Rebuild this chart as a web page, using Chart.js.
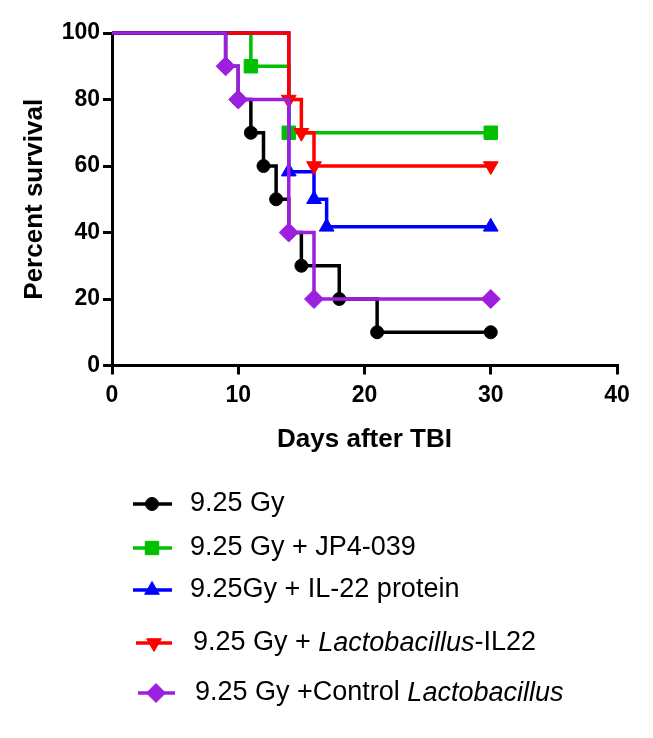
<!DOCTYPE html>
<html>
<head>
<meta charset="utf-8">
<script src="https://cdn.jsdelivr.net/npm/chart.js@4.4.1/dist/chart.umd.min.js"></script>
<style>
  html, body { margin: 0; padding: 0; background: #fff; }
</style>
</head>
<body>
<canvas id="survivalChart" width="653" height="738"></canvas>
<script>
const xTicks = [0, 10, 20, 30, 40];
const yTicks = [0, 20, 40, 60, 80, 100];

// Kaplan-Meier steps: day of the drop and survival (%) after it
const gyDays = [0, 9, 10, 11, 12, 13, 14, 15, 18, 21, 30];
const gySurvival = [100, 90, 80, 70, 60, 50, 40, 30, 20, 10, 10];
const jp4Days = [0, 11, 14, 30];
const jp4Survival = [100, 90, 70, 70];
const proteinDays = [0, 14, 16, 17, 30];
const proteinSurvival = [100, 58.3, 50, 41.7, 41.7];
const lactoIl22Days = [0, 14, 15, 16, 30];
const lactoIl22Survival = [100, 80, 70, 60, 60];
const lactoCtrlDays = [0, 9, 10, 14, 16, 30];
const lactoCtrlSurvival = [100, 90, 80, 40, 20, 20];

// legend text pieces: [text, italic]
const seriesLabels = [
  [["9.25 Gy", false]],
  [["9.25 Gy + JP4-039", false]],
  [["9.25Gy + IL-22 protein", false]],
  [["9.25 Gy + ", false], ["Lactobacillus", true], ["-IL22", false]],
  [["9.25 Gy +Control ", false], ["Lactobacillus", true]],
];

const FONT = "'Liberation Sans', Arial, sans-serif";

const makeSet = (label, days, survival, color, style, radius, rotation, order) => ({
  label: label.map((p) => p[0]).join(""),
  data: days.map((d, i) => ({ x: d, y: survival[i] })),
  borderColor: color,
  backgroundColor: color,
  borderWidth: 3.5,
  stepped: "before",
  pointStyle: style,
  pointRotation: rotation,
  pointRadius: days.map((d, i) => (i === 0 ? 0 : radius)),
  pointHoverRadius: days.map((d, i) => (i === 0 ? 0 : radius)),
  pointBorderWidth: 1,
  fill: false,
  clip: false,
  order: order,
});

const datasets = [
  makeSet(seriesLabels[0], gyDays, gySurvival, "#000000", "circle", 6.5, 0, 2),
  makeSet(seriesLabels[1], jp4Days, jp4Survival, "#00c000", "rect", 9.5, 0, 5),
  makeSet(seriesLabels[2], proteinDays, proteinSurvival, "#0000ff", "triangle", 8.5, 0, 4),
  makeSet(seriesLabels[3], lactoIl22Days, lactoIl22Survival, "#ff0000", "triangle", 8.5, 180, 3),
  makeSet(seriesLabels[4], lactoCtrlDays, lactoCtrlSurvival, "#9c1fe0", "rectRot", 9.5, 0, 1),
];

const legendRows = [
  { y: 504, lineX: [133, 172], markX: 152, textX: 190 },
  { y: 548, lineX: [133, 172], markX: 152, textX: 190 },
  { y: 590, lineX: [133, 172], markX: 152, textX: 190 },
  { y: 643, lineX: [136, 172], markX: 154, textX: 193 },
  { y: 693, lineX: [138, 175], markX: 156, textX: 195 },
];

const bottomLegend = {
  id: "bottomLegend",
  afterDraw(chart) {
    const ctx = chart.ctx;
    chart.data.datasets.forEach((ds, i) => {
      const row = legendRows[i];
      ctx.save();
      ctx.strokeStyle = ds.borderColor;
      ctx.fillStyle = ds.backgroundColor;
      ctx.lineWidth = 3.5;
      ctx.beginPath();
      ctx.moveTo(row.lineX[0], row.y);
      ctx.lineTo(row.lineX[1], row.y);
      ctx.stroke();
      ctx.lineWidth = 1;
      Chart.helpers.drawPoint(ctx, {
        pointStyle: ds.pointStyle,
        rotation: ds.pointRotation,
        radius: ds.pointRadius[1],
        borderWidth: 1,
      }, row.markX, row.y);
      ctx.fillStyle = "#000";
      ctx.textBaseline = "middle";
      let x = row.textX;
      seriesLabels[i].forEach(([text, italic]) => {
        ctx.font = (italic ? "italic " : "") + "27px " + FONT;
        ctx.fillText(text, x, row.y);
        x += ctx.measureText(text).width;
      });
      ctx.restore();
    });
  },
};

new Chart(document.getElementById("survivalChart"), {
  type: "line",
  data: { datasets: datasets },
  plugins: [bottomLegend],
  options: {
    responsive: false,
    animation: false,
    events: [],
    layout: { padding: { top: 33, right: 36, bottom: 280.5, left: 0 } },
    plugins: { legend: { display: false }, tooltip: { enabled: false } },
    scales: {
      x: {
        type: "linear",
        min: 0,
        max: 40,
        afterFit: (scale) => { scale.height = 92; },
        afterBuildTicks: (scale) => { scale.ticks = xTicks.map((v) => ({ value: v })); },
        border: { color: "#000", width: 3 },
        grid: { drawOnChartArea: false, drawTicks: true, tickLength: 9, color: "#000", lineWidth: 3 },
        ticks: { color: "#000", padding: 7, font: { family: FONT, size: 23, weight: "bold" } },
        title: {
          display: true,
          text: "Days after TBI",
          color: "#000",
          padding: { top: 0, bottom: 2 },
          font: { family: FONT, size: 26, weight: "bold" },
        },
      },
      y: {
        min: 0,
        max: 100,
        afterFit: (scale) => { scale.width = 112; },
        afterBuildTicks: (scale) => { scale.ticks = yTicks.map((v) => ({ value: v })); },
        border: { color: "#000", width: 3 },
        grid: { drawOnChartArea: false, drawTicks: true, tickLength: 9, color: "#000", lineWidth: 3 },
        ticks: { color: "#000", padding: 3, font: { family: FONT, size: 23, weight: "bold" } },
        title: {
          display: true,
          text: "Percent survival",
          color: "#000",
          padding: { top: 19, bottom: 0 },
          font: { family: FONT, size: 26, weight: "bold" },
        },
      },
    },
  },
});
</script>
</body>
</html>
